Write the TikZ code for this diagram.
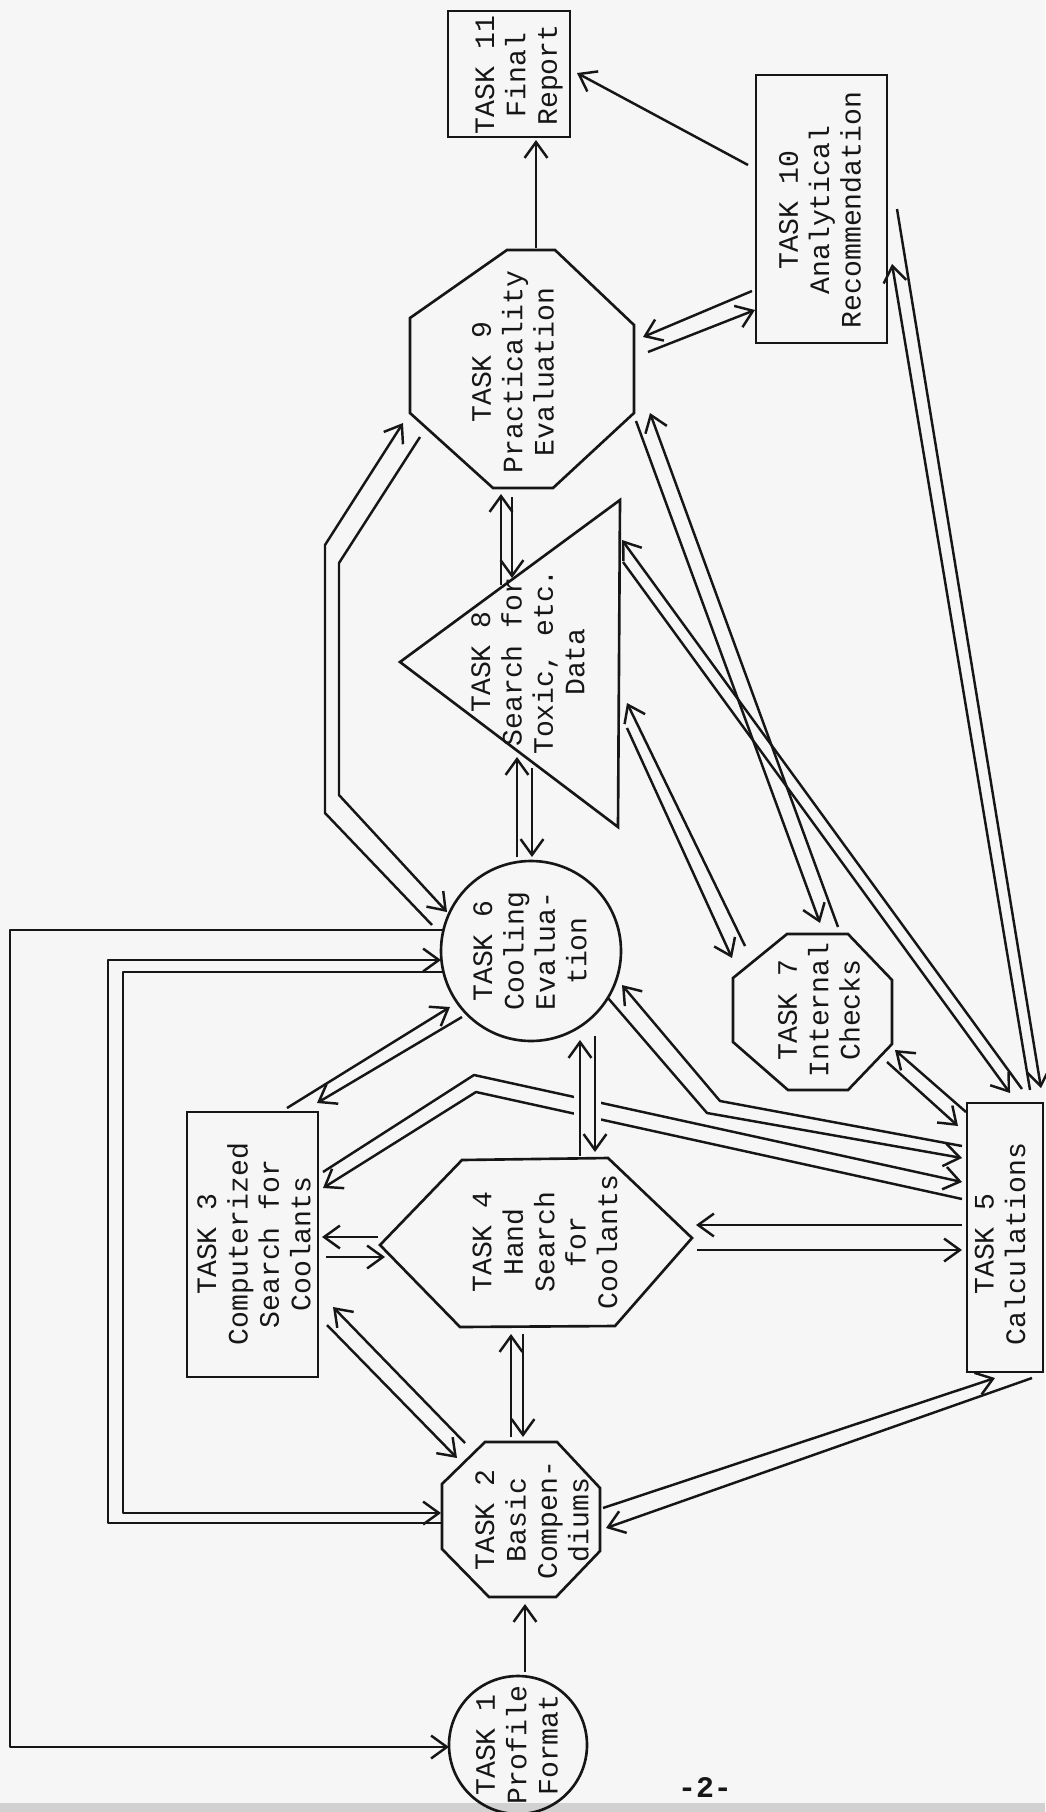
\documentclass[tikz,border=0pt]{standalone}
\usepackage{fontspec}
\newfontfamily\tw{Liberation Mono}
\usetikzlibrary{arrows.meta}
\definecolor{paper}{RGB}{246,246,246}
\definecolor{ink}{RGB}{22,22,22}
\begin{document}
\begin{tikzpicture}[x=0.02cm,y=-0.02cm,
  ln/.style={line width=1.4pt, draw=ink, line join=round},
  arr/.style={ln, -{Straight Barb[length=9pt,width=13pt]}},
  shp/.style={line width=1.5pt, draw=ink, line join=miter},
  lbl/.style={font={\tw\fontsize{16pt}{17.9pt}\selectfont}, align=center, rotate=90, inner sep=0pt, text=ink}]
\useasboundingbox (0,0) rectangle (1045,1812);
\fill[paper] (0,0) rectangle (1045,1812);
\fill[black!18] (0,1803) rectangle (1045,1812);

% ---------- shapes ----------
\draw[shp] (448,11) rectangle (570,137);
\draw[shp] (756,75) rectangle (887,343);
\draw[shp] (507,250)--(555,250)--(634,325)--(634,413)--(553,488)--(493,488)--(410,413)--(410,318)--cycle;
\draw[shp] (400,662)--(620,500)--(618,827)--cycle;
\draw[shp] (787,934)--(848,934)--(892,980)--(892,1044)--(848,1090)--(788,1090)--(733,1042)--(733,978)--cycle;
\draw[shp] (531,951) circle[radius=90];
\draw[shp] (967,1103) rectangle (1043,1372);
\draw[shp] (380,1245)--(462,1160)--(608,1158)--(692,1238)--(615,1326)--(460,1327)--cycle;
\draw[shp] (187,1112) rectangle (318,1377);
\draw[shp] (485,1442)--(557,1442)--(600,1488)--(600,1551)--(556,1597)--(489,1597)--(442,1549)--(442,1484)--cycle;
\draw[shp] (518,1745) circle[radius=69];

% ---------- labels ----------
\node[lbl] (t11) at (519,75) {TASK 11\\Final\\Report};
\node[lbl] (t10) at (820,210) {TASK 10\\Analytical\\Recommendation};
\node[lbl] (t9) at (513,372) {TASK 9\\Practicality\\Evaluation};
\node[lbl] (t8) at (528,662) {TASK 8\\Search for\\Toxic, etc.\\Data};
\node[lbl] (t7) at (819,1010) {TASK 7\\Internal\\Checks};
\node[lbl] (t6) at (530,951) {TASK 6\\Cooling\\Evalua-\\tion};
\node[lbl] (t5) at (1000,1244) {TASK 5\\Calculations};
\node[lbl] (t4) at (545,1242) {TASK 4\\Hand\\Search\\for\\Coolants};
\node[lbl] (t3) at (254,1244) {TASK 3\\Computerized\\Search for\\Coolants};
\node[lbl] (t2) at (532,1520) {TASK 2\\Basic\\Compen-\\diums};
\node[lbl] (t1) at (517,1745) {TASK 1\\Profile\\Format};
\node[font={\tw\fontsize{17pt}{18pt}\selectfont\bfseries}, text=ink] (pg) at (705,1787) {-2-};

% ---------- connectors ----------
% 9 -> 11, 10 -> 11
\draw[arr] (536,248) -- (536,140);
\draw[arr] (748,165) -- (577,73);
% 9 <-> 10
\draw[arr] (752,291) -- (643,337);
\draw[arr] (648,352) -- (755,310);
% 8 <-> 9
\draw[arr] (501,585) -- (501,494);
\draw[arr] (512,497) -- (512,578);
% 6 <-> 9 (left double path)
\draw[arr] (432,925) -- (325,813) -- (325,545) -- (403,423);
\draw[arr] (420,437) -- (339,563) -- (339,795) -- (447,912);
% 6 <-> 8
\draw[arr] (517,857) -- (517,757);
\draw[arr] (532,768) -- (532,857);
% 8 <-> 7
\draw[arr] (745,946) -- (627,703);
\draw[arr] (627,728) -- (732,958);
% 9 <-> 7
\draw[arr] (636,421) -- (820,923);
\draw[arr] (838,927) -- (650,413);
% 8 <-> 5
\draw[arr] (623,562) -- (1010,1093);
\draw[arr] (1022,1089) -- (622,540);
% 10 <-> 5
\draw[arr] (1030,1090) -- (892,264);
\draw[arr] (897,209) -- (1041,1088);
% 7 <-> 5
\draw[arr] (966,1112) -- (895,1050);
\draw[arr] (887,1062) -- (958,1126);
% 6 <-> 5 (bent)
\draw[arr] (608,998) -- (707,1113) -- (962,1158);
\draw[arr] (962,1146) -- (720,1101) -- (622,985);
% 3 <-> 5 (bent)
\draw[arr] (323,1172) -- (474,1075) -- (962,1182);
\draw[arr] (962,1199) -- (476,1092) -- (323,1188);
% gap where the 3-5 lines pass the 4-6 pair
\fill[paper] (574,1090) rectangle (601,1125);
% 4 <-> 5
\draw[arr] (962,1225) -- (696,1225);
\draw[arr] (697,1250) -- (962,1250);
% 4 <-> 6
\draw[arr] (580,1156) -- (580,1040);
\draw[arr] (595,1036) -- (595,1152);
% 3 <-> 6
\draw[arr] (287,1108) -- (450,1007);
\draw[arr] (462,1017) -- (317,1103);
% 3 <-> 4
\draw[arr] (378,1237) -- (322,1237);
\draw[arr] (326,1257) -- (385,1257);
% 3 <-> 2
\draw[arr] (465,1443) -- (333,1307);
\draw[arr] (327,1325) -- (457,1458);
% 4 <-> 2
\draw[arr] (511,1437) -- (511,1334);
\draw[arr] (523,1334) -- (523,1437);
% 2 <-> 5
\draw[arr] (603,1508) -- (995,1378);
\draw[arr] (1032,1378) -- (606,1528);
% 1 -> 2
\draw[arr] (525,1672) -- (525,1604);
% 6 -> 1 (outer loop)
\draw[arr] (443,930) -- (10,930) -- (10,1747) -- (449,1747);
% 6 <-> 2 (double loop)
\draw[arr] (443,972) -- (123,972) -- (123,1513) -- (441,1513);
\draw[arr] (441,1523) -- (108,1523) -- (108,960) -- (441,960);
\end{tikzpicture}
\end{document}
